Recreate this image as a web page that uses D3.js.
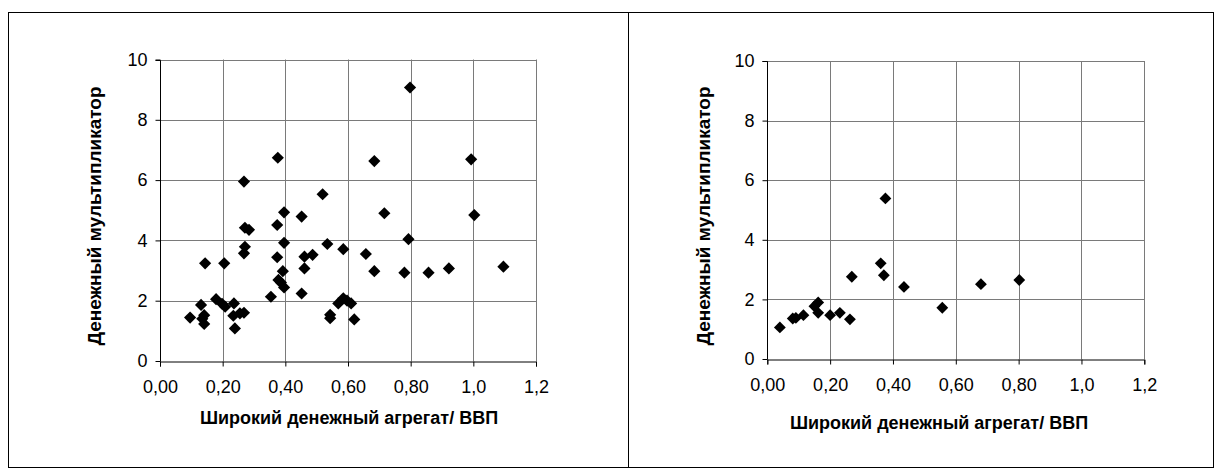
<!DOCTYPE html>
<html><head><meta charset="utf-8">
<script src="https://cdn.jsdelivr.net/npm/d3@7"></script>
<style>body{margin:0;background:#fff}svg{display:block}text{font-family:"Liberation Sans",Arial,sans-serif}</style>
</head><body><svg id="c" width="1221" height="475"></svg>
<script>
const xTickValues=[0,0.2,0.4,0.6,0.8,1.0,1.2];
const xTickLabels=["0,00","0,20","0,40","0,60","0,80","1,0","1,2"];
const yTickValues=[0,2,4,6,8,10];
const xTitle="Широкий денежный агрегат/ ВВП";
const yTitle="Денежный мультипликатор";
const leftX=[0.096,0.131,0.141,0.135,0.141,0.144,0.179,0.205,0.198,0.208,0.236,0.234,0.239,0.255,0.268,0.268,0.271,0.284,0.271,0.268,0.354,0.376,0.374,0.374,0.378,0.386,0.396,0.392,0.396,0.396,0.452,0.452,0.461,0.461,0.487,0.519,0.534,0.543,0.543,0.569,0.585,0.597,0.610,0.585,0.620,0.657,0.684,0.684,0.716,0.798,0.993,1.003,0.793,0.780,0.857,0.922,1.096];
const leftY=[1.44,1.86,1.52,1.40,1.23,3.24,2.05,3.24,1.90,1.80,1.91,1.50,1.08,1.58,1.60,5.95,4.42,4.35,3.79,3.57,2.13,6.74,4.51,3.44,2.69,2.60,2.44,2.98,3.92,4.93,4.79,2.24,3.46,3.07,3.52,5.53,3.88,1.53,1.42,1.91,2.08,2.00,1.91,3.71,1.38,3.55,2.98,6.63,4.90,9.07,6.69,4.84,4.04,2.93,2.93,3.07,3.13];
const rightX=[0.040,0.081,0.091,0.115,0.150,0.162,0.162,0.200,0.231,0.263,0.269,0.361,0.371,0.376,0.435,0.557,0.680,0.802];
const rightY=[1.06,1.36,1.38,1.47,1.77,1.90,1.55,1.47,1.55,1.33,2.76,3.21,2.81,5.39,2.42,1.72,2.51,2.65];

const svg=d3.select("#c");
svg.append("rect").attr("x",8.5).attr("y",12.5).attr("width",1205).attr("height",455).attr("fill","none").attr("stroke","#000");
svg.append("line").attr("x1",628.5).attr("x2",628.5).attr("y1",12.5).attr("y2",467.5).attr("stroke","#000");

function panel(cfg){
  const x=d3.scaleLinear().domain([0,1.2]).range([cfg.x0,cfg.x1]);
  const y=d3.scaleLinear().domain([0,10]).range([cfg.y0,cfg.y1]);
  const g=svg.append("g");
  g.selectAll(".vg").data(xTickValues.slice(1)).join("line")
    .attr("x1",d=>Math.round(x(d))+0.5).attr("x2",d=>Math.round(x(d))+0.5)
    .attr("y1",y(0)).attr("y2",y(10)).attr("stroke","#7a7a7a");
  g.selectAll(".hg").data(yTickValues.slice(1)).join("line")
    .attr("y1",d=>Math.round(y(d))+0.5).attr("y2",d=>Math.round(y(d))+0.5)
    .attr("x1",x(0)).attr("x2",x(1.2)).attr("stroke","#7a7a7a");
  const xa=d3.axisBottom(x).tickValues(xTickValues).tickFormat((d,i)=>xTickLabels[i]).tickSize(5).tickPadding(14);
  const ya=d3.axisLeft(y).tickValues(yTickValues).tickFormat(d=>d).tickSize(5).tickPadding(8);
  const gx=g.append("g").attr("transform",`translate(0,${Math.round(y(0))+0.5})`).call(xa);
  const gy=g.append("g").attr("transform",`translate(${Math.round(x(0))+0.5},0)`).call(ya);
  [gx,gy].forEach(a=>{a.attr("font-size",null).attr("font-family",null);
    a.select(".domain").attr("stroke","#000");a.selectAll("line").attr("stroke","#000");
    a.selectAll("text").attr("font-size",18).attr("fill","#000");});
  gy.select(".domain").attr("d",`M-5,${Math.round(y(10))+0.5}H0V${Math.round(y(0))+0.5}`);
  const sym=d3.symbol().type(d3.symbolSquare).size(cfg.ms);
  g.selectAll(".pt").data(cfg.xs.map((v,i)=>[v,cfg.ys[i]])).join("path")
    .attr("d",sym).attr("transform",d=>`translate(${x(d[0])},${y(d[1])}) rotate(45)`).attr("fill","#000");
  g.append("text").attr("x",cfg.tx).attr("y",cfg.ty).attr("text-anchor","middle")
    .attr("font-size",18).attr("font-weight","bold").text(xTitle);
  g.append("text").attr("transform",`translate(${cfg.yx},${cfg.yy}) rotate(-90)`).attr("text-anchor","middle")
    .attr("font-size",19).attr("font-weight","bold").text(yTitle);
}
panel({x0:160,x1:536,y0:361,y1:59.5,xs:leftX,ys:leftY,ms:74,tx:349,ty:424,yx:101,yy:216});
panel({x0:767.3,x1:1144.3,y0:359,y1:61,xs:rightX,ys:rightY,ms:70,tx:939,ty:429,yx:710,yy:216});
</script></body></html>
